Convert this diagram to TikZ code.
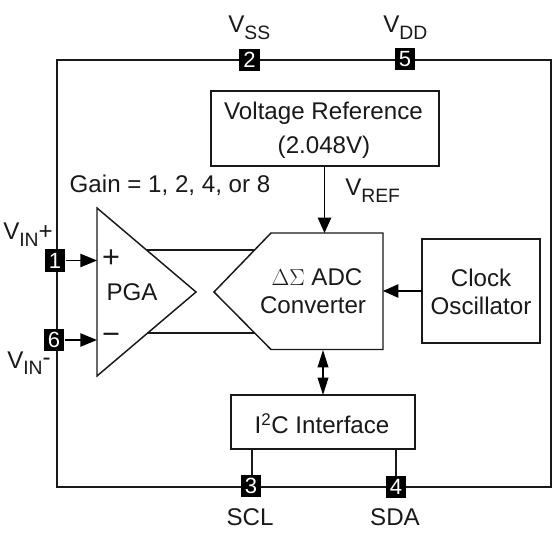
\documentclass[tikz,border=0pt]{standalone}
\usepackage{fontspec}
\setmainfont{Liberation Sans}
\usetikzlibrary{arrows.meta}
\tikzset{
  wire/.style={line width=1.5pt,draw=black!90},
  thin wire/.style={line width=1.1pt,draw=black!90},
  blockbox/.style={draw=black!90,line width=1.7pt,fill=white,inner sep=0pt,align=center},
  pinbox/.style={fill=black,text=white,inner sep=0pt,minimum width=15.5pt,minimum height=16.5pt,font=\fontsize{16.5}{16.5}\selectfont},
  lbl/.style={inner sep=0pt,font=\fontsize{18.1}{22}\selectfont,text=black!90},
  arr/.style={-{Triangle[length=12.5pt,width=10pt]},line width=1.1pt,draw=black},
  sarr/.style={-{Triangle[length=11.5pt,width=10pt]},line width=1.1pt,draw=black},
  barr/.style={{Triangle[length=13pt,width=8pt]}-{Triangle[length=13pt,width=8pt]},line width=1.1pt,draw=black}
}
\begin{document}
\begin{tikzpicture}[x=0.75pt,y=-0.75pt]
\useasboundingbox (0,0) rectangle (555,555);
\coordinate (tl) at (57,60);
\coordinate (br) at (551,487);
\draw[wire] (tl) rectangle (br);
% blocks
\node[blockbox,minimum width=171pt,minimum height=56pt] (vref) at (325,128.5) {};
\node[lbl] (vreft1) at (323.5,113) {Voltage Reference};
\node[lbl] (vreft2) at (324,147.5) {(2.048V)};
\node[blockbox,minimum width=88.5pt,minimum height=78pt] (clk) at (481,291) {};
\node[lbl] (clk1) at (481,278) {Clock};
\node[lbl] (clk2) at (481,306) {Oscillator};
\node[blockbox,minimum width=138pt,minimum height=40.5pt] (i2c) at (323,422) {};
\node[lbl] (i2ct) at (322,424) {I\textsuperscript{2}C Interface};
% lines between PGA and ADC
\coordinate (pgaA) at (97,208);
\coordinate (pgaB) at (97,376);
\coordinate (pgaC) at (196,292);
\coordinate (adcA) at (271,233);
\coordinate (adcB) at (383,233);
\coordinate (adcC) at (383,349.5);
\coordinate (adcD) at (271,349.5);
\coordinate (adcE) at (214,292);
\coordinate (lu1) at (147,250);
\coordinate (lu2) at (255,250);
\coordinate (ld1) at (147,333);
\coordinate (ld2) at (255,333);
\draw[wire] (lu1) -- (lu2);
\draw[wire] (ld1) -- (ld2);
\draw[thin wire,line join=miter] (pgaA) -- (pgaB) -- (pgaC) -- cycle;
\draw[thin wire,line join=miter] (adcA) -- (adcB) -- (adcC) -- (adcD) -- (adcE) -- cycle;
\node[lbl] (pga) at (132,292) {PGA};
\node[lbl] (plus) at (111,259) {\fontsize{23}{23}\selectfont +};
\node[lbl] (minus) at (111,339) {\fontsize{23}{23}\selectfont −};
\node[lbl] (adc1) at (317,277) {$\Delta\Sigma$ ADC};
\node[lbl] (adc2) at (313,305) {Converter};
\node[lbl] (gain) at (170,185) {Gain = 1, 2, 4, or 8};
% pins
\node[pinbox] (p1) at (55,260.5) {1};
\node[pinbox] (p6) at (54,340) {6};
\node[pinbox] (p2) at (249.5,60) {2};
\node[pinbox] (p5) at (405,59) {5};
\node[pinbox] (p3) at (251,486) {3};
\node[pinbox] (p4) at (396,487) {4};
\coordinate (pt1) at (97,260.5);
\coordinate (pt6) at (97,340);
\draw[arr] (p1) -- (pt1);
\draw[arr] (p6) -- (pt6);
\coordinate (ref1) at (324.5,166);
\coordinate (ref2) at (324.5,233);
\draw[sarr] (ref1) -- (ref2);
\coordinate (clka) at (422,291);
\coordinate (clkb) at (383,291);
\draw[sarr] (clka) -- (clkb);
\coordinate (bi1) at (323,350);
\coordinate (bi2) at (323,395);
\draw[barr] (bi1) -- (bi2);
\coordinate (s1) at (252,449);
\coordinate (s2) at (396,449);
\draw[wire] (s1) -- (s1 |- p3.north);
\draw[wire] (s2) -- (p4.north);
% labels
\node[lbl,anchor=base west] (vss) at (228,33) {V\raisebox{-0.28em}{\fontsize{14.5}{15}\selectfont SS}};
\node[lbl,anchor=base west] (vdd) at (383,33) {V\raisebox{-0.28em}{\fontsize{14.5}{15}\selectfont DD}};
\node[lbl,anchor=base west] (vref2) at (345,196) {V\raisebox{-0.28em}{\fontsize{14.5}{15}\selectfont REF}};
\node[lbl,anchor=base west] (vinp) at (3,240) {V\raisebox{-0.28em}{\fontsize{14.5}{15}\selectfont IN}+};
\node[lbl,anchor=base west] (vinm) at (7,368) {V\raisebox{-0.28em}{\fontsize{14.5}{15}\selectfont IN}\raisebox{0.1em}{-}};
\node[lbl] (scl) at (250,517) {SCL};
\node[lbl] (sda) at (395,517) {SDA};
\end{tikzpicture}
\end{document}
